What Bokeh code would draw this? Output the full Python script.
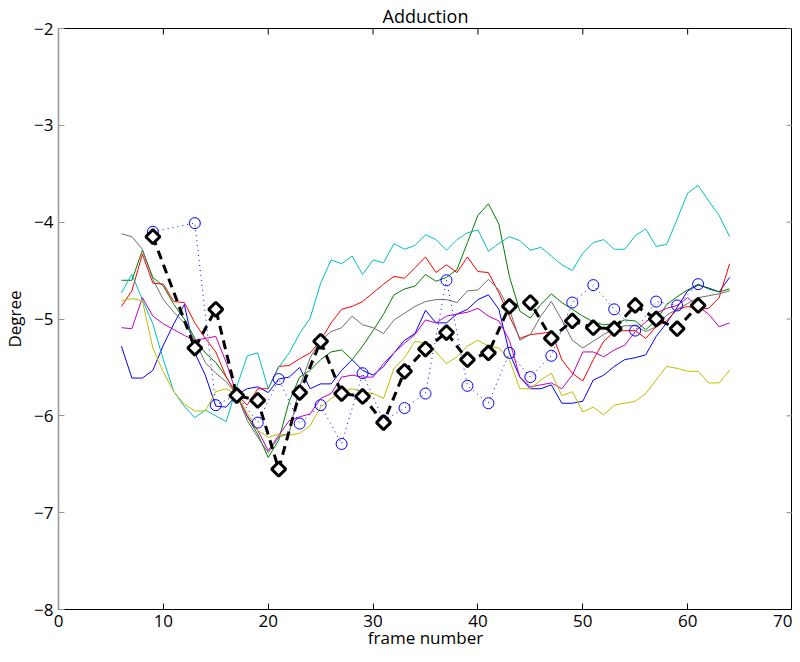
from bokeh.plotting import figure
from bokeh.models import Range1d, FixedTicker, Title
from bokeh.embed import file_html
from bokeh.resources import INLINE

frames = list(range(6, 65))

blue = [-5.28, -5.61, -5.61, -5.53, -5.27, -5.05, -4.85, -5.35, -5.58, -5.90,
        -5.91, -5.78, -5.72, -5.70, -5.76, -5.62, -5.60, -5.50, -5.72, -5.67,
        -5.67, -5.53, -5.42, -5.53, -5.58, -5.49, -5.35, -5.22, -5.15, -4.91,
        -5.04, -5.04, -4.95, -4.90, -4.80, -4.75, -4.90, -5.35, -5.60, -5.72,
        -5.72, -5.68, -5.87, -5.87, -5.85, -5.63, -5.58, -5.49, -5.42, -5.40,
        -5.37, -5.18, -5.04, -4.88, -4.71, -4.65, -4.68, -4.72, -4.57]
green = [-4.60, -4.60, -4.29, -4.57, -4.66, -4.85, -5.00, -5.20, -5.35, -5.45,
         -5.60, -5.78, -6.01, -6.19, -6.43, -6.25, -5.85, -5.60, -5.53, -5.42,
         -5.34, -5.32, -5.42, -5.28, -5.12, -4.95, -4.75, -4.69, -4.66, -4.54,
         -4.61, -4.57, -4.49, -4.21, -3.93, -3.81, -4.02, -4.56, -4.92, -4.99,
         -4.85, -4.74, -4.83, -4.90, -4.97, -5.03, -5.06, -5.05, -5.01, -5.02,
         -5.11, -5.02, -4.85, -4.77, -4.70, -4.64, -4.69, -4.72, -4.69]
red = [-4.87, -4.71, -4.33, -4.63, -4.64, -4.82, -4.83, -5.04, -5.20, -5.34,
       -5.60, -5.78, -5.89, -5.72, -5.72, -5.49, -5.48, -5.41, -5.35, -5.22,
       -5.04, -4.90, -4.87, -4.82, -4.73, -4.64, -4.56, -4.58, -4.47, -4.36,
       -4.52, -4.44, -4.52, -4.36, -4.51, -4.52, -4.73, -4.97, -5.20, -5.16,
       -5.15, -5.13, -5.42, -5.56, -5.64, -5.42, -5.23, -5.13, -5.12, -5.12,
       -5.20, -5.08, -5.02, -4.90, -4.87, -4.90, -4.89, -4.78, -4.43]
cyan = [-4.73, -4.54, -4.80, -5.05, -5.42, -5.75, -5.90, -6.02, -5.94, -6.00,
        -6.06, -5.70, -5.38, -5.35, -5.72, -5.50, -5.35, -5.15, -4.99, -4.63,
        -4.39, -4.43, -4.35, -4.54, -4.39, -4.42, -4.22, -4.28, -4.24, -4.13,
        -4.18, -4.29, -4.18, -4.11, -4.08, -4.30, -4.22, -4.15, -4.19, -4.29,
        -4.26, -4.35, -4.44, -4.50, -4.32, -4.21, -4.18, -4.28, -4.28, -4.14,
        -4.07, -4.25, -4.23, -3.97, -3.70, -3.62, -3.78, -3.93, -4.15]
magenta = [-5.09, -5.10, -4.78, -4.97, -5.05, -5.11, -5.17, -5.22, -5.20, -5.18,
           -5.45, -5.78, -6.00, -6.15, -6.36, -6.20, -6.05, -6.01, -5.98, -5.82,
           -5.77, -5.60, -5.58, -5.60, -5.60, -5.46, -5.35, -5.25, -5.16, -5.01,
           -5.04, -4.97, -4.95, -4.93, -4.89, -4.97, -5.02, -5.22, -5.60, -5.70,
           -5.68, -5.66, -5.72, -5.58, -5.34, -5.34, -5.39, -5.32, -5.27, -5.13,
           -5.03, -4.94, -4.89, -4.86, -4.78, -4.87, -4.95, -5.08, -5.04]
yellow = [-4.81, -4.79, -4.81, -5.30, -5.55, -5.75, -5.88, -5.95, -5.95, -5.75,
          -5.72, -5.78, -5.97, -6.15, -6.22, -6.19, -6.20, -6.18, -6.10, -5.91,
          -5.82, -5.75, -5.72, -5.75, -5.77, -5.82, -5.51, -5.40, -5.23, -5.25,
          -5.34, -5.46, -5.39, -5.28, -5.22, -5.28, -5.30, -5.42, -5.72, -5.72,
          -5.63, -5.56, -5.79, -5.75, -5.96, -5.91, -5.99, -5.89, -5.87, -5.85,
          -5.77, -5.63, -5.49, -5.51, -5.54, -5.54, -5.66, -5.66, -5.53]
gray = [-4.12, -4.15, -4.28, -4.59, -4.80, -4.93, -5.04, -5.22, -5.45, -5.56,
        -5.65, -5.78, -6.05, -6.22, -6.38, -6.22, -6.18, -5.70, -5.40, -5.22,
        -5.13, -5.09, -4.97, -5.06, -5.09, -5.15, -5.01, -4.94, -4.87, -4.82,
        -4.80, -4.80, -4.83, -4.71, -4.70, -4.59, -4.70, -4.90, -5.22, -5.16,
        -4.97, -4.82, -5.01, -5.22, -5.30, -5.23, -5.16, -5.10, -5.07, -5.07,
        -5.13, -5.08, -4.96, -4.90, -4.84, -4.78, -4.76, -4.74, -4.71]

sample_frames = [9, 13, 15, 17, 19, 21, 23, 25, 27, 29, 31, 33, 35, 37, 39, 41,
                 43, 45, 47, 49, 51, 53, 55, 57, 59, 61]
circles = [-4.10, -4.01, -5.89, -5.78, -6.07, -5.62, -6.08, -5.89, -6.29, -5.56,
           -6.05, -5.92, -5.77, -4.60, -5.69, -5.87, -5.35, -5.60, -5.38, -4.83,
           -4.65, -4.90, -5.12, -4.82, -4.86, -4.64]
diamonds = [-4.15, -5.30, -4.90, -5.79, -5.84, -6.55, -5.76, -5.23, -5.77, -5.80,
            -6.07, -5.54, -5.31, -5.14, -5.42, -5.35, -4.87, -4.83, -5.20, -5.02,
            -5.09, -5.10, -4.86, -5.00, -5.10, -4.86]

x_ticks = [0, 10, 20, 30, 40, 50, 60, 70]
y_ticks = [-8, -7, -6, -5, -4, -3, -2]
x_lo, x_hi = 0, 70
y_lo, y_hi = -8, -2

FONT = "Open Sans"
FS = "18px"
FS_AX = "17px"

p = figure(width=792, height=654, output_backend="svg", toolbar_location=None,
           x_range=Range1d(x_lo, x_hi), y_range=Range1d(y_lo, y_hi),
           min_border_left=51, min_border_right=0, min_border_top=26,
           min_border_bottom=45)
p.outline_line_color = "black"
p.outline_line_width = 1
p.xgrid.visible = False
p.ygrid.visible = False
p.background_fill_color = "white"

t = Title(text="Adduction", align="center", text_font=FONT, text_font_size=FS,
          text_font_style="normal", text_color="black", standoff=2)
p.add_layout(t, "above")

series = [(blue, "#0000FF"), (green, "#008000"), (red, "#FF0000"),
          (cyan, "#00BFBF"), (magenta, "#BF00BF"), (yellow, "#BFBF00"),
          (gray, "#6E6E6E")]
for vals, col in series:
    p.line(frames, vals, line_color=col, line_width=1)

p.line(sample_frames, circles, line_color="#0000FF", line_width=1,
       line_dash="1 4")
p.scatter(sample_frames, circles, marker="circle", size=11, fill_color=None,
          line_color="#0000FF", line_width=1)

p.line(sample_frames, diamonds, line_color="black", line_width=3,
       line_dash="9 6")
p.scatter(sample_frames, diamonds, marker="square", angle=0.785398, size=10,
          fill_color="white", line_color="black", line_width=3)

# inward tick marks on the top and right edges of the box
p.scatter(x_ticks, [y_hi] * len(x_ticks), marker="dash", angle=1.5708, size=12,
          line_color="black", line_width=1)
p.scatter([x_hi] * len(y_ticks), y_ticks, marker="dash", size=12,
          line_color="#888888", line_width=1)

minus = "\u2212"
xa = p.xaxis[0]
xa.ticker = FixedTicker(ticks=x_ticks)
xa.axis_label = "frame number"
ya = p.yaxis[0]
ya.ticker = FixedTicker(ticks=y_ticks)
ya.major_label_overrides = {v: (minus + str(abs(v)) if v < 0 else str(v)) for v in y_ticks}
ya.axis_label = "Degree"

for ax in (xa, ya):
    ax.minor_tick_line_color = None
    ax.major_tick_in = 6
    ax.major_tick_out = 0
    ax.major_label_text_font = FONT
    ax.major_label_text_font_size = FS_AX
    ax.major_label_text_color = "black"
    ax.axis_label_text_font = FONT
    ax.axis_label_text_font_size = FS_AX
    ax.axis_label_text_font_style = "normal"
    ax.axis_label_text_color = "black"

xa.major_label_standoff = 5
xa.axis_label_standoff = -4
xa.axis_line_color = "black"
xa.major_tick_line_color = "black"
ya.major_label_standoff = 5
ya.axis_label_standoff = 5
ya.axis_line_color = "#999999"
ya.axis_line_width = 1.5
ya.major_tick_line_color = "#999999"

open("out.html", "w").write(file_html(p, INLINE))
